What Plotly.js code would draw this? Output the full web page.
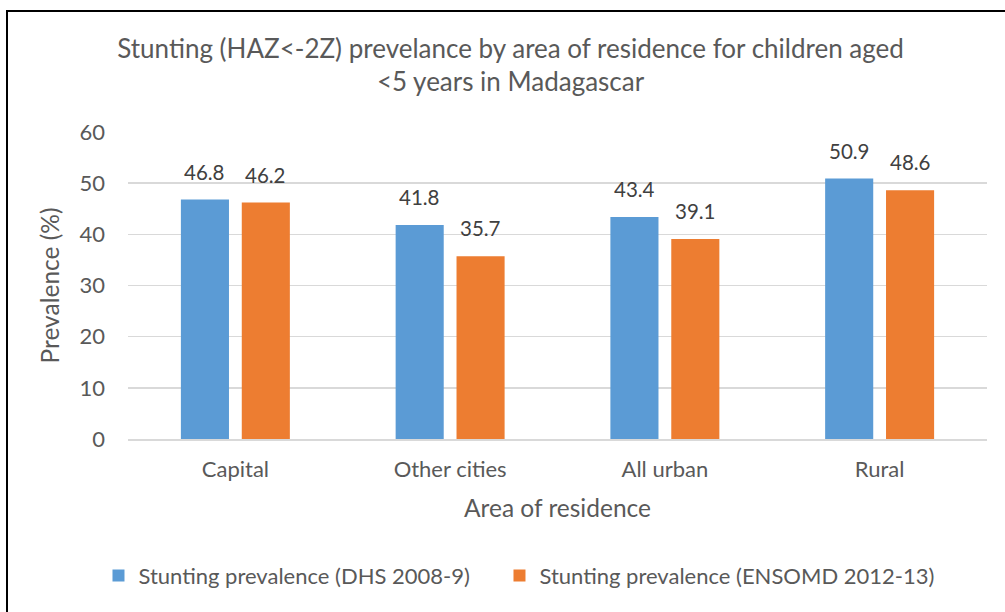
<!DOCTYPE html>
<html>
<head>
<meta charset="utf-8">
<script src="https://cdn.plot.ly/plotly-3.0.1.min.js"></script>
<style>
html,body{margin:0;padding:0;background:#fff;}
#wrap{position:relative;width:1005px;height:612px;overflow:hidden;}
#chart{width:1005px;height:612px;}
#frame{position:absolute;left:6px;top:10px;width:1010px;height:620px;border-left:2px solid #000;border-top:2px solid #000;pointer-events:none;}
</style>
</head>
<body>
<div id="wrap"><div id="chart"></div><div id="frame"></div></div>
<script>
const categories = ["Capital", "Other cities", "All urban", "Rural"];
const dhs2008 = [46.8, 41.8, 43.4, 50.9];
const ensomd2012 = [46.2, 35.7, 39.1, 48.6];
const seriesNames = ["Stunting prevalence (DHS 2008-9)", "Stunting prevalence (ENSOMD 2012-13)"];
const yTicks = [0, 10, 20, 30, 40, 50, 60];

const FONT = "Lato, 'Open Sans', sans-serif";
const GREY = "#595959";

const traces = [
  {type:"bar", name:seriesNames[0], x:categories, y:dhs2008, marker:{color:"#5B9BD5"}, legend:"legend"},
  {type:"bar", name:seriesNames[1], x:categories, y:ensomd2012, marker:{color:"#ED7D31"}, legend:"legend2"}
];

const annotations = [];
[[dhs2008,-30.5],[ensomd2012,30.5]].forEach(([vals,dx])=>{
  vals.forEach((v,i)=>annotations.push({
    x:categories[i], y:v, xref:"x", yref:"y", text:v.toFixed(1), showarrow:false,
    xshift:dx, yshift:14, yanchor:"bottom", font:{family:FONT,size:20.5,color:"#404040"}
  }));
});

const legendStyle = {orientation:"h", xref:"container", xanchor:"left", y:0.025, yref:"container", yanchor:"bottom",
                     font:{family:FONT,size:22,color:GREY}, bgcolor:"rgba(0,0,0,0)"};

const layout = {
  width:1005, height:612,
  paper_bgcolor:"#fff", plot_bgcolor:"#fff",
  margin:{l:128, r:18, t:132, b:173},
  font:{family:FONT, color:GREY, size:18},
  title:{text:"Stunting (HAZ<-2Z) prevelance by area of residence for children aged<br><5 years in Madagascar",
         font:{family:FONT,size:26,color:GREY}, x:0.508, xref:"container", xanchor:"center", y:0.906, yanchor:"top"},
  barmode:"group", bargap:0.433, bargroupgap:0.21,
  showlegend:true,
  annotations:annotations,
  legend:Object.assign({}, legendStyle, {x:0.098}),
  legend2:Object.assign({}, legendStyle, {x:0.497}),
  xaxis:{showgrid:false, showline:true, linecolor:"#D9D9D9", linewidth:2, ticks:"",
         tickfont:{family:FONT,size:22,color:GREY}, ticklabelstandoff:10,
         title:{text:"Area of residence", font:{family:FONT,size:24.5,color:GREY}, standoff:18}},
  yaxis:{range:[0,60], tickvals:yTicks, ticktext:yTicks.map(String), showgrid:true, gridcolor:"#D9D9D9", gridwidth:1.5,
         zeroline:false, showline:false, ticks:"", ticklabelstandoff:22,
         tickfont:{family:FONT,size:22,color:GREY},
         title:{text:"Prevalence (%)", font:{family:FONT,size:24.5,color:GREY}, standoff:12}}
};

Plotly.newPlot("chart", traces, layout, {displayModeBar:false, staticPlot:true});
</script>
</body>
</html>
